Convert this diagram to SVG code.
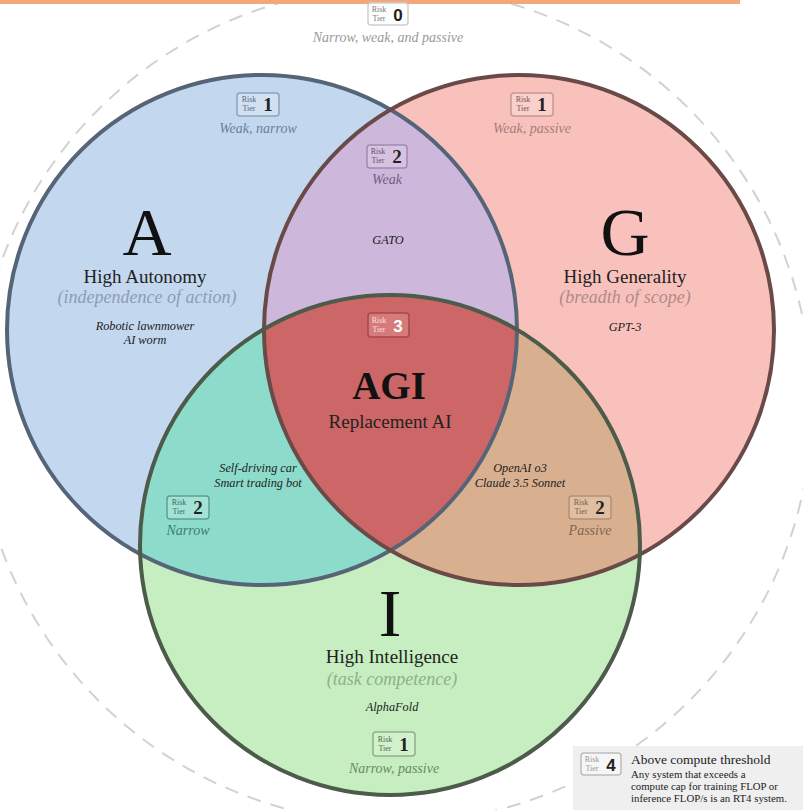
<svg xmlns="http://www.w3.org/2000/svg" width="803" height="810" viewBox="0 0 803 810">
<style>
.ex{font-family:"Liberation Serif","DejaVu Serif",serif;font-style:italic;font-size:12.3px;fill:#222;text-anchor:middle;}
.big{font-family:"Liberation Serif","DejaVu Serif",serif;font-size:68px;fill:#111;text-anchor:middle;}
.title{font-family:"Liberation Serif","DejaVu Serif",serif;font-size:19px;fill:#222;text-anchor:middle;}
.sub{font-family:"Liberation Serif","DejaVu Serif",serif;font-style:italic;font-size:18px;text-anchor:middle;}
.tier{font-family:"Liberation Serif","DejaVu Serif",serif;font-style:italic;font-size:14px;text-anchor:middle;}
.bx{stroke-width:1.5;}
.rk{font-family:"Liberation Serif","DejaVu Serif",serif;font-size:8px;text-anchor:middle;}
.dg{font-family:"Liberation Serif","DejaVu Serif",serif;font-size:19px;font-weight:bold;text-anchor:middle;}
.ds{font-family:"Liberation Sans","DejaVu Sans",sans-serif;font-size:17px;font-weight:bold;text-anchor:middle;}
</style>
<defs>
<clipPath id="cA"><circle cx="262" cy="330" r="255"/></clipPath>
<clipPath id="cG"><circle cx="519" cy="330" r="255"/></clipPath>
</defs>
<rect width="803" height="810" fill="#ffffff"/>
<circle cx="394" cy="405" r="418" fill="none" stroke="#d2d2d2" stroke-width="2" stroke-dasharray="14 10"/>
<rect x="0" y="0" width="740" height="4" fill="#f5a77c"/>

<g id="regions">
<circle cx="262" cy="330" r="255" fill="#c3d8ef"/>
<circle cx="519" cy="330" r="255" fill="#f9c1bc"/>
<circle cx="390" cy="545" r="250" fill="#c6eec0"/>
<g clip-path="url(#cA)"><circle cx="519" cy="330" r="255" fill="#cdb7db"/></g>
<g clip-path="url(#cA)"><circle cx="390" cy="545" r="250" fill="#8ddccb"/></g>
<g clip-path="url(#cG)"><circle cx="390" cy="545" r="250" fill="#d8b08f"/></g>
<g clip-path="url(#cA)"><g clip-path="url(#cG)"><circle cx="390" cy="545" r="250" fill="#cd6666"/></g></g>
</g>

<g id="outlines" fill="none" stroke-width="4">
<circle cx="262" cy="330" r="255" stroke="#566478"/>
<circle cx="519" cy="330" r="255" stroke="#6a4a48"/>
<circle cx="390" cy="545" r="250" stroke="#4c5b4a"/>
</g>

<g id="tier0">
<g transform="translate(388,14)">
<rect class="bx" x="-20" y="-11" width="40" height="22" rx="3" fill="#ffffff" stroke="#cfcfcf"/>
<text class="rk" x="-9" y="-2" fill="#777">Risk</text><text class="rk" x="-9" y="7" fill="#777">Tier</text>
<text class="ds" x="10" y="7" fill="#222">0</text>
</g>
<text class="tier" x="388" y="42" fill="#9a9a9a">Narrow, weak, and passive</text>
</g>

<g id="nodeA">
<g transform="translate(258,104)">
<rect class="bx" x="-21" y="-11" width="42" height="23" rx="3" fill="#d2e1f2" stroke="#8ea2bc"/>
<text class="rk" x="-9" y="-2" fill="#55657a">Risk</text><text class="rk" x="-9" y="7" fill="#55657a">Tier</text>
<text class="dg" x="10" y="7" fill="#222">1</text>
</g>
<text class="tier" x="258" y="133" fill="#6b7f98">Weak, narrow</text>
<text class="big" x="147" y="255">A</text>
<text class="title" x="145" y="283">High Autonomy</text>
<text class="sub" x="147" y="303" fill="#8d9db3">(independence of action)</text>
<text class="ex" x="145" y="330">Robotic lawnmower</text>
<text class="ex" x="145" y="344">AI worm</text>
</g>

<g id="nodeG">
<g transform="translate(532,104)">
<rect class="bx" x="-21" y="-11" width="42" height="23" rx="3" fill="#fbcfcb" stroke="#c49a96"/>
<text class="rk" x="-9" y="-2" fill="#7a5654">Risk</text><text class="rk" x="-9" y="7" fill="#7a5654">Tier</text>
<text class="dg" x="10" y="7" fill="#222">1</text>
</g>
<text class="tier" x="532" y="133" fill="#a57d7a">Weak, passive</text>
<text class="big" x="625" y="255">G</text>
<text class="title" x="625" y="283">High Generality</text>
<text class="sub" x="625" y="303" fill="#b08b88">(breadth of scope)</text>
<text class="ex" x="625" y="331">GPT-3</text>
</g>

<g id="nodeAG">
<g transform="translate(387,156)">
<rect class="bx" x="-20" y="-11" width="40" height="23" rx="3" fill="#d6c3e2" stroke="#a08cb0"/>
<text class="rk" x="-9" y="-2" fill="#5e5070">Risk</text><text class="rk" x="-9" y="7" fill="#5e5070">Tier</text>
<text class="dg" x="10" y="7" fill="#222">2</text>
</g>
<text class="tier" x="387" y="184" fill="#6e6082">Weak</text>
<text class="ex" x="388" y="244">GATO</text>
</g>

<g id="nodeAGI">
<g transform="translate(388,325)">
<rect class="bx" x="-20" y="-12" width="41" height="24" rx="3" fill="#d67a7a" stroke="#a84848"/>
<text class="rk" x="-9" y="-2" fill="#fbe0e0">Risk</text><text class="rk" x="-9" y="7" fill="#fbe0e0">Tier</text>
<text class="ds" x="10" y="7" fill="#ffffff">3</text>
</g>
<text x="389" y="399" font-family="Liberation Serif,DejaVu Serif,serif" font-size="39" font-weight="bold" text-anchor="middle" fill="#111">AGI</text>
<text class="title" x="390" y="428">Replacement AI</text>
</g>

<g id="nodeAI">
<text class="ex" x="258" y="472">Self-driving car</text>
<text class="ex" x="258" y="487">Smart trading bot</text>
<g transform="translate(188,507)">
<rect class="bx" x="-21" y="-11" width="42" height="23" rx="3" fill="#a3e3d6" stroke="#5f9e92"/>
<text class="rk" x="-9" y="-2" fill="#3d6a62">Risk</text><text class="rk" x="-9" y="7" fill="#3d6a62">Tier</text>
<text class="dg" x="10" y="7" fill="#222">2</text>
</g>
<text class="tier" x="188" y="535" fill="#3e7c72">Narrow</text>
</g>

<g id="nodeGI">
<text class="ex" x="520" y="472">OpenAI o3</text>
<text class="ex" x="520" y="487">Claude 3.5 Sonnet</text>
<g transform="translate(590,507)">
<rect class="bx" x="-21" y="-11" width="42" height="23" rx="3" fill="#e0bea2" stroke="#b2907a"/>
<text class="rk" x="-9" y="-2" fill="#7a5e4a">Risk</text><text class="rk" x="-9" y="7" fill="#7a5e4a">Tier</text>
<text class="dg" x="10" y="7" fill="#222">2</text>
</g>
<text class="tier" x="590" y="535" fill="#85654e">Passive</text>
</g>

<g id="nodeI">
<text class="big" x="390" y="636">I</text>
<text class="title" x="392" y="663">High Intelligence</text>
<text class="sub" x="392" y="685" fill="#8fb08a">(task competence)</text>
<text class="ex" x="392" y="711">AlphaFold</text>
<g transform="translate(394,744)">
<rect class="bx" x="-21" y="-12" width="42" height="24" rx="3" fill="#d2f1cd" stroke="#8fb08a"/>
<text class="rk" x="-9" y="-2" fill="#4e6a4a">Risk</text><text class="rk" x="-9" y="7" fill="#4e6a4a">Tier</text>
<text class="dg" x="10" y="7" fill="#222">1</text>
</g>
<text class="tier" x="394" y="773" fill="#6a8a66">Narrow, passive</text>
</g>

<g id="legend">
<rect x="573" y="746" width="230" height="64" fill="#efefef"/>
<g transform="translate(601,764)">
<rect class="bx" x="-20" y="-11" width="40" height="22" rx="3" fill="#f6f6f6" stroke="#bdbdbd"/>
<text class="rk" x="-9" y="-2" fill="#999">Risk</text><text class="rk" x="-9" y="7" fill="#999">Tier</text>
<text class="ds" x="10" y="7" fill="#222">4</text>
</g>
<text x="631" y="764" font-family="Liberation Serif,DejaVu Serif,serif" font-size="13.5" fill="#222">Above compute threshold</text>
<text x="631" y="778" font-family="Liberation Serif,DejaVu Serif,serif" font-size="10.8" fill="#222">Any system that exceeds a</text>
<text x="631" y="790" font-family="Liberation Serif,DejaVu Serif,serif" font-size="10.8" fill="#222">compute cap for training FLOP or</text>
<text x="631" y="802" font-family="Liberation Serif,DejaVu Serif,serif" font-size="10.8" fill="#222">inference FLOP/s is an RT4 system.</text>
</g>
</svg>
